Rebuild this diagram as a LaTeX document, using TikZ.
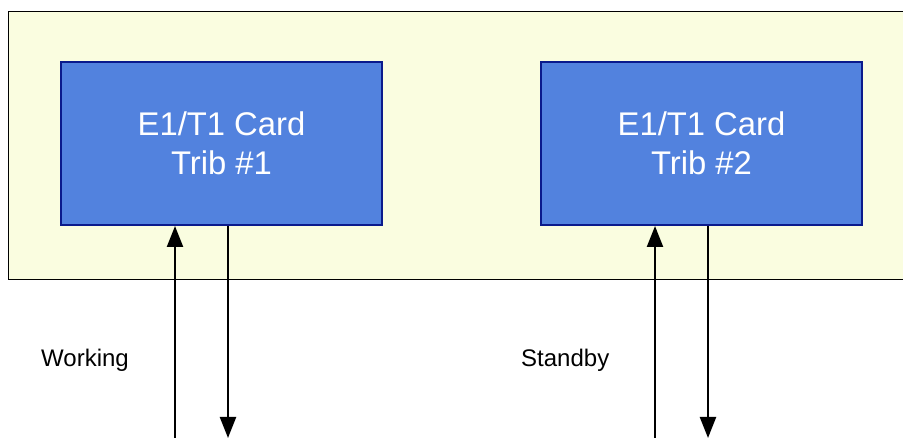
\documentclass[tikz,border=0pt]{standalone}
\usepackage{fontspec}
\setmainfont{Liberation Sans}
\usetikzlibrary{arrows.meta}
\definecolor{frameyellow}{HTML}{FAFDE0}
\definecolor{cardblue}{HTML}{5282DE}
\definecolor{cardedge}{HTML}{0A1A8C}
\tikzset{
  card/.style={draw=cardedge, line width=2pt, fill=cardblue, text=white,
    minimum width=321pt, minimum height=163pt, inner sep=0pt,
    align=center, font=\fontsize{32.8}{39}\selectfont},
  link/.style={line width=2.2pt, -{Triangle[width=16pt,length=21pt]}},
  lbl/.style={font=\fontsize{24}{28}\selectfont, inner sep=0pt, anchor=west}
}
\begin{document}
\begin{tikzpicture}[x=1pt,y=-1pt]
\useasboundingbox (0,0) rectangle (903,438);
\begin{scope}
\clip (0,0) rectangle (903,438);
\node[draw=black, line width=1pt, fill=frameyellow, minimum width=960pt, minimum height=268pt, inner sep=0pt, anchor=north west] (frame) at (8,11) {};
\node[card] (t1) at (221.5,143.5) {E1/T1 Card\\Trib \#1};
\node[card] (t2) at (701.5,143.5) {E1/T1 Card\\Trib \#2};
\coordinate (u1) at (175,440);
\coordinate (d1) at (228,438);
\coordinate (u2) at (655,440);
\coordinate (d2) at (708,438);
\draw[link] (u1) -- (u1 |- t1.south);
\draw[link] (d1 |- t1.south) -- (d1);
\draw[link] (u2) -- (u2 |- t2.south);
\draw[link] (d2 |- t2.south) -- (d2);
\node[lbl] (w) at (41,360) {Working};
\node[lbl] (s) at (521,360) {Standby};
\end{scope}
\end{tikzpicture}
\end{document}
